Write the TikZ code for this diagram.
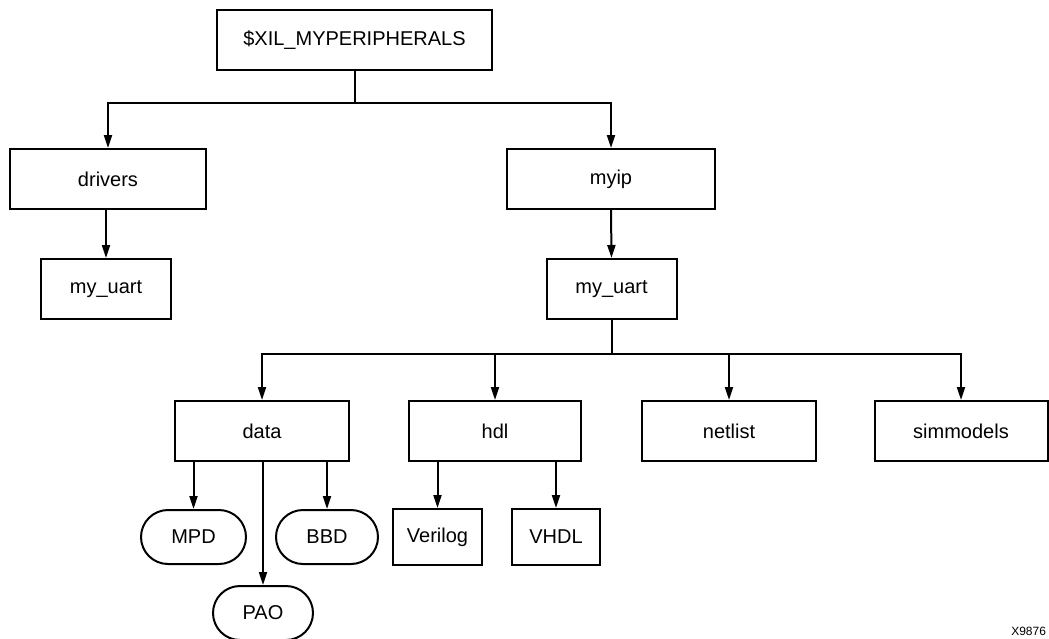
\documentclass[tikz,border=0pt]{standalone}
\usepackage{fontspec}
\setmainfont{Liberation Sans}
\usetikzlibrary{arrows.meta}
\begin{document}
\begin{tikzpicture}[x=1pt,y=-1pt,
  line width=2pt,
  every node/.style={font=\fontsize{20}{24}\selectfont, inner sep=0pt},
  dirbox/.style={draw, rectangle, minimum height=60pt},
  filebox/.style={draw, rectangle, rounded corners=27pt, minimum height=54pt},
  leafbox/.style={draw, rectangle, minimum height=56pt},
  arr/.style={-{Triangle[length=13pt,width=8pt]}}]
\useasboundingbox (0,0) rectangle (1049,638);
\clip (0,0) rectangle (1049,638);

% directory tree
\node[dirbox, minimum width=275pt] (top) at (354.5,40) {\$XIL\_MYPERIPHERALS};
\node[dirbox, minimum width=196pt] (drivers) at (108,179) {drivers};
\node[dirbox, minimum width=208pt] (myip) at (611,179) {myip};
\node[dirbox, minimum width=130pt] (uartA) at (106,289) {my\_uart};
\node[dirbox, minimum width=130pt] (uartB) at (611.5,289) {my\_uart};

\node[dirbox, minimum width=174pt] (data) at (262,431) {data};
\node[dirbox, minimum width=172pt] (hdl) at (495,431) {hdl};
\node[dirbox, minimum width=174pt] (netlist) at (729,431) {netlist};
\node[dirbox, minimum width=173pt] (simmodels) at (961,431) {simmodels};

\node[filebox, minimum width=105pt] (mpd) at (193.5,537) {MPD};
\node[filebox, minimum width=102pt] (bbd) at (327,537) {BBD};
\node[filebox, minimum width=100pt] (pao) at (263,613) {PAO};
\node[leafbox, minimum width=89pt] (verilog) at (437.5,537) {Verilog};
\node[leafbox, minimum width=88pt] (vhdl) at (556,537) {VHDL};

% bus junctions
\coordinate (busA) at (354.5,103);
\coordinate (busB) at (611.5,354);

% connectors
\draw (top.south) -- (busA);
\draw[arr] (busA) -| (drivers.north);
\draw[arr] (busA) -| (myip.north);
\draw[arr] (drivers.south -| uartA.north) -- (uartA.north);
\draw[arr] (myip.south) -- (uartB.north);

\draw (uartB.south) -- (busB);
\draw[arr] (busB) -| (data.north);
\draw[arr] (busB) -| (hdl.north);
\draw[arr] (busB) -| (netlist.north);
\draw[arr] (busB) -| (simmodels.north);

\draw[arr] (data.south -| mpd.north) -- (mpd.north);
\draw[arr] (data.south -| bbd.north) -- (bbd.north);
\draw[arr] (data.south -| pao.north) -- (pao.north);
\draw[arr] (hdl.south -| verilog.north) -- (verilog.north);
\draw[arr] (hdl.south -| vhdl.north) -- (vhdl.north);

% figure tag
\node[anchor=base east, font=\fontsize{12}{14}\selectfont] (tag) at (1047,635) {X9876};
\end{tikzpicture}
\end{document}
